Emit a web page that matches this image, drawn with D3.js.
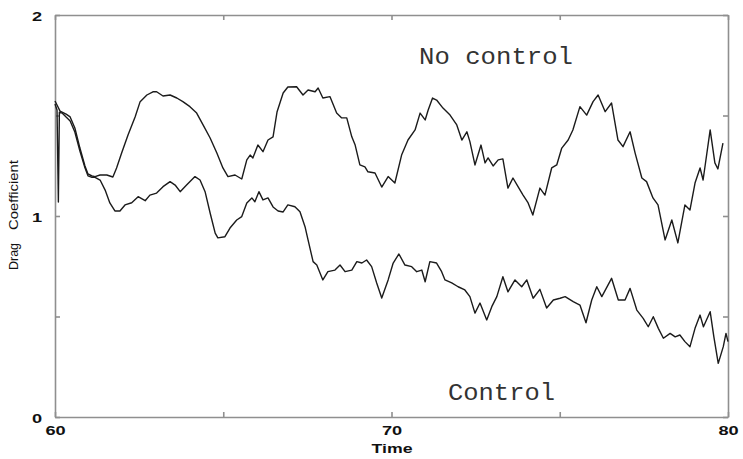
<!DOCTYPE html>
<html>
<head>
<meta charset="utf-8">
<script src="https://cdn.jsdelivr.net/npm/d3@7"></script>
<style>
  body { margin: 0; background: #fff; }
  .axis path, .axis line { stroke: #8f8f8f; stroke-width: 1.6; }
  .axis text { font-family: "Liberation Sans", Arial, sans-serif; font-size: 13px; font-weight: bold; fill: #111; }
  .curve { fill: none; stroke: #1b1b1b; stroke-width: 1.4; stroke-linejoin: round; }
  .tag { font-family: "Liberation Mono", monospace; font-size: 23px; fill: #333; }
  .ytitle, .xtitle { font-family: "Liberation Sans", Arial, sans-serif; fill: #111; }
</style>
</head>
<body>
<div id="vis"></div>
<script>
// ticks
var xTicks = [60, 65, 70, 75, 80],
    xLabelled = [60, 70, 80],
    yTicks = [0, 0.5, 1, 1.5, 2],
    yLabelled = [0, 1, 2];

// [time, drag coefficient]
var noControl = [
  [60.00,1.572],[60.06,1.552],[60.15,1.522],[60.33,1.507],[60.45,1.493],[60.59,1.438],[60.74,1.338],[60.89,1.249],
  [60.98,1.209],[61.10,1.199],[61.19,1.196],[61.34,1.204],[61.54,1.204],[61.72,1.194],[61.83,1.239],[61.98,1.313],
  [62.17,1.403],[62.38,1.493],[62.53,1.569],[62.73,1.602],[62.91,1.618],[63.02,1.618],[63.21,1.597],[63.42,1.602],
  [63.62,1.587],[63.80,1.569],[64.01,1.544],[64.21,1.512],[64.40,1.453],[64.61,1.388],[64.81,1.313],[64.99,1.239],
  [65.14,1.196],[65.35,1.204],[65.55,1.184],[65.70,1.279],[65.80,1.303],[65.88,1.289],[66.03,1.353],[66.18,1.320],
  [66.33,1.378],[66.48,1.394],[66.60,1.519],[66.78,1.612],[66.92,1.642],[67.18,1.643],[67.37,1.602],[67.52,1.627],
  [67.73,1.618],[67.82,1.637],[67.96,1.587],[68.17,1.594],[68.37,1.512],[68.52,1.488],[68.67,1.488],[68.82,1.394],
  [68.92,1.353],[69.06,1.254],[69.21,1.244],[69.30,1.220],[69.51,1.214],[69.71,1.144],[69.90,1.196],[70.10,1.164],
  [70.30,1.303],[70.49,1.378],[70.70,1.428],[70.85,1.512],[71.00,1.478],[71.09,1.527],[71.22,1.587],[71.34,1.577],
  [71.53,1.537],[71.74,1.502],[71.94,1.453],[72.09,1.378],[72.24,1.419],[72.33,1.370],[72.48,1.254],[72.66,1.353],
  [72.78,1.264],[72.87,1.289],[73.02,1.249],[73.17,1.279],[73.31,1.284],[73.46,1.139],[73.61,1.189],[73.76,1.146],
  [73.91,1.104],[74.06,1.065],[74.20,1.005],[74.41,1.139],[74.56,1.104],[74.76,1.239],[74.91,1.254],[75.06,1.338],
  [75.25,1.378],[75.39,1.428],[75.60,1.544],[75.80,1.502],[75.99,1.569],[76.14,1.602],[76.35,1.519],[76.54,1.562],
  [76.73,1.378],[76.88,1.345],[77.09,1.419],[77.24,1.313],[77.44,1.189],[77.58,1.171],[77.77,1.090],[77.92,1.055],
  [78.13,0.881],[78.33,0.980],[78.51,0.866],[78.72,1.055],[78.87,1.030],[79.02,1.164],[79.17,1.239],[79.26,1.179],
  [79.47,1.428],[79.61,1.264],[79.70,1.234],[79.85,1.363]
];

var control = [
  [60.00,1.557],[60.06,1.527],[60.10,1.070],[60.13,1.517],[60.21,1.512],[60.33,1.492],[60.45,1.473],[60.59,1.418],
  [60.74,1.323],[60.89,1.240],[60.98,1.200],[61.10,1.192],[61.19,1.192],[61.34,1.179],[61.49,1.129],[61.63,1.065],
  [61.78,1.025],[61.93,1.025],[62.08,1.055],[62.28,1.066],[62.47,1.096],[62.68,1.076],[62.82,1.104],[63.02,1.114],
  [63.21,1.146],[63.42,1.171],[63.57,1.154],[63.72,1.121],[63.91,1.154],[64.16,1.196],[64.31,1.179],[64.46,1.121],
  [64.61,1.015],[64.76,0.915],[64.84,0.891],[65.05,0.897],[65.20,0.940],[65.40,0.980],[65.55,0.997],[65.70,1.065],
  [65.85,1.090],[65.94,1.071],[66.06,1.121],[66.18,1.080],[66.33,1.090],[66.48,1.045],[66.63,1.025],[66.78,1.020],
  [66.92,1.055],[67.13,1.046],[67.28,1.021],[67.43,0.947],[67.52,0.881],[67.67,0.773],[67.78,0.756],[67.96,0.682],
  [68.11,0.723],[68.32,0.731],[68.47,0.756],[68.62,0.723],[68.82,0.731],[68.97,0.773],[69.12,0.766],[69.26,0.781],
  [69.41,0.748],[69.56,0.667],[69.71,0.592],[69.90,0.682],[70.05,0.766],[70.22,0.811],[70.40,0.756],[70.60,0.748],
  [70.75,0.723],[70.90,0.731],[71.00,0.673],[71.14,0.773],[71.34,0.766],[71.49,0.723],[71.59,0.682],[71.79,0.667],
  [71.98,0.648],[72.18,0.632],[72.33,0.599],[72.48,0.517],[72.63,0.567],[72.83,0.483],[72.98,0.549],[73.13,0.599],
  [73.31,0.698],[73.46,0.623],[73.67,0.682],[73.87,0.648],[74.02,0.682],[74.21,0.591],[74.41,0.635],[74.61,0.542],
  [74.81,0.582],[75.01,0.591],[75.16,0.599],[75.40,0.574],[75.60,0.557],[75.78,0.469],[75.95,0.582],[76.10,0.648],
  [76.25,0.599],[76.54,0.690],[76.74,0.582],[76.94,0.582],[77.09,0.640],[77.29,0.532],[77.48,0.491],[77.63,0.449],
  [77.78,0.499],[77.93,0.441],[78.08,0.392],[78.28,0.416],[78.43,0.399],[78.57,0.408],[78.72,0.375],[78.87,0.350],
  [79.02,0.441],[79.17,0.507],[79.27,0.449],[79.47,0.524],[79.58,0.399],[79.71,0.267],[79.86,0.350],[79.94,0.416],
  [80.00,0.375]
];

var w = 743,
    h = 459,
    plotLeft = 55, plotRight = 728, plotTop = 15, plotBottom = 417,
    tickLen = 5;

var x = d3.scaleLinear().domain([60, 80]).range([plotLeft, plotRight]),
    y = d3.scaleLinear().domain([0, 2]).range([plotBottom, plotTop]);

var svg = d3.select("#vis")
            .append("svg")
            .attr("width", w)
            .attr("height", h);

var line = d3.line()
             .x(function(d) { return x(d[0]); })
             .y(function(d) { return y(d[1]); });

/* axes, ticks pointing inward on all four sides */
var fmtX = function(d) { return xLabelled.indexOf(d) >= 0 ? d : ""; },
    fmtY = function(d) { return yLabelled.indexOf(d) >= 0 ? d : ""; };

var gb = svg.append("g").attr("class", "axis")
   .attr("transform", "translate(0," + plotBottom + ")")
   .call(d3.axisBottom(x).tickValues(xTicks).tickSizeInner(-tickLen).tickSizeOuter(0).tickFormat(fmtX));
gb.selectAll("text").attr("y", 0).attr("dy", 0)
   .attr("transform", "translate(0,18) scale(1.4,1)");

svg.append("g").attr("class", "axis")
   .attr("transform", "translate(0," + plotTop + ")")
   .call(d3.axisTop(x).tickValues(xTicks).tickSizeInner(-tickLen).tickSizeOuter(0).tickFormat(""));

var gl = svg.append("g").attr("class", "axis")
   .attr("transform", "translate(" + plotLeft + ",0)")
   .call(d3.axisLeft(y).tickValues(yTicks).tickSizeInner(-tickLen).tickSizeOuter(0).tickFormat(fmtY));
gl.selectAll("text").attr("x", 0).attr("dy", "0.36em")
   .attr("transform", "translate(-13,1) scale(1.4,1)");

svg.append("g").attr("class", "axis")
   .attr("transform", "translate(" + plotRight + ",0)")
   .call(d3.axisRight(y).tickValues(yTicks).tickSizeInner(-tickLen).tickSizeOuter(0).tickFormat(""));

svg.selectAll(".axis .domain").attr("stroke", "#8f8f8f");

/* curves */
svg.append("path").datum(noControl).attr("class", "curve").attr("d", line);
svg.append("path").datum(control).attr("class", "curve").attr("d", line);

/* labels */
svg.append("text").attr("class", "tag")
   .attr("x", 419).attr("y", 64)
   .attr("textLength", 154).attr("lengthAdjust", "spacingAndGlyphs")
   .text("No control");

svg.append("text").attr("class", "tag")
   .attr("x", 448).attr("y", 400)
   .attr("textLength", 107).attr("lengthAdjust", "spacingAndGlyphs")
   .text("Control");

svg.append("text").attr("class", "xtitle")
   .attr("x", 392).attr("y", 453)
   .attr("text-anchor", "middle")
   .attr("font-size", 12)
   .attr("font-weight", "bold")
   .attr("textLength", 41).attr("lengthAdjust", "spacingAndGlyphs")
   .text("Time");

svg.append("text").attr("class", "ytitle")
   .attr("transform", "translate(18,270) rotate(-90)")
   .attr("font-size", 12)
   .attr("textLength", 27).attr("lengthAdjust", "spacingAndGlyphs")
   .text("Drag");

svg.append("text").attr("class", "ytitle")
   .attr("transform", "translate(18,230) rotate(-90)")
   .attr("font-size", 12)
   .attr("textLength", 70).attr("lengthAdjust", "spacingAndGlyphs")
   .text("Coefficient");
</script>
</body>
</html>
